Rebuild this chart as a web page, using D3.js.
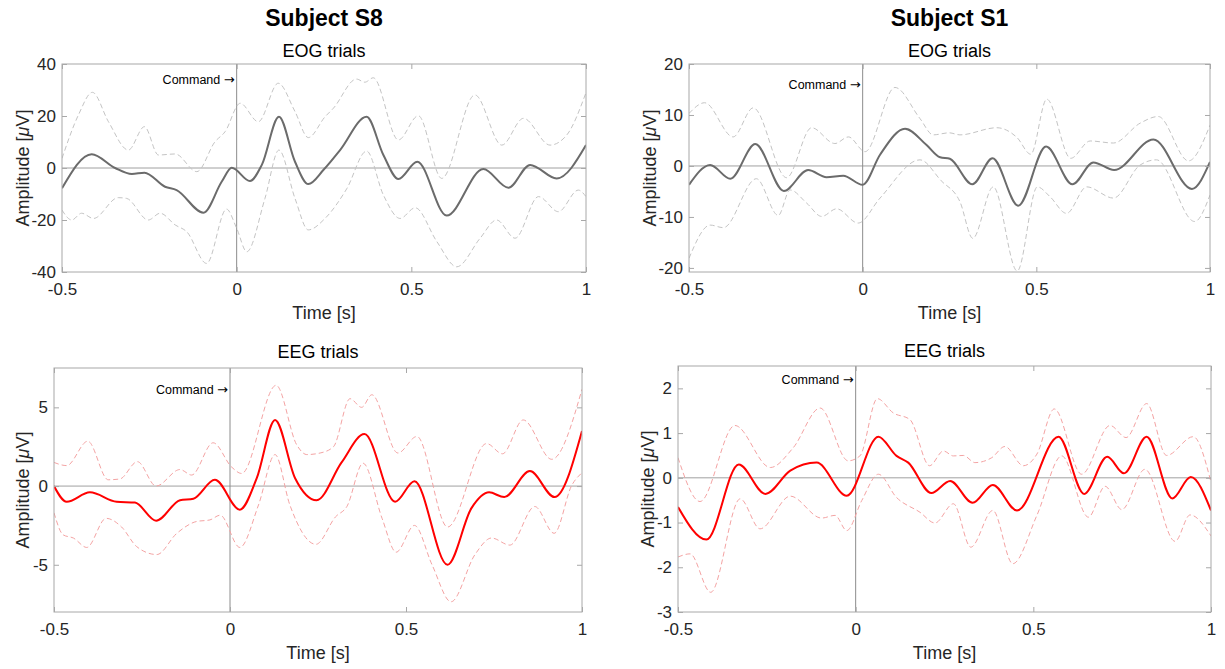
<!DOCTYPE html>
<html>
<head>
<meta charset="utf-8">
<title>EOG / EEG trials</title>
<script src="https://d3js.org/d3.v7.min.js"></script>
<style>
  body { margin: 0; background: #fff; }
  svg { font-family: "Liberation Sans", Arial, Helvetica, sans-serif; }
</style>
</head>
<body>
<div id="chart"></div>
<script>
// values: time [s] and amplitude [uV]
var xTicks = [-0.5, 0, 0.5, 1];
var xTickLabels = ["-0.5", "0", "0.5", "1"];

// Subject S8, EOG
var s8EogMeanT = [-0.5,-0.415,-0.348,-0.3,-0.264,-0.205,-0.172,-0.095,-0.043,-0.014,0.038,0.072,0.121,0.167,0.205,0.25,0.296,0.372,0.42,0.463,0.517,0.601,0.706,0.778,0.84,0.916,1.0];
var s8EogMean  = [-7.8,5.3,0,-2.3,-1.8,-7.2,-8.5,-17.2,-5.3,0.1,-5,1.2,19.7,2.4,-6.2,-0.5,6.9,19.7,5,-4.2,2.4,-18.3,-0.4,-7.6,1.2,-4,8.8];
var s8EogUpT = [-0.5,-0.453,-0.413,-0.367,-0.31,-0.264,-0.224,-0.176,-0.114,-0.062,-0.033,0.01,0.062,0.119,0.167,0.205,0.253,0.277,0.343,0.367,0.391,0.463,0.52,0.587,0.682,0.759,0.821,0.897,0.945,1.0];
var s8EogUp  = [3.7,20.4,29.1,17.8,6.9,15.9,5,5.4,-1.4,10.1,14,24.9,17.8,32.6,21.7,11.7,19.7,23,34.2,33,34.7,10.8,20.1,-4,28.1,8.8,19.1,8.8,12.7,29];
var s8EogLoT = [-0.5,-0.472,-0.444,-0.41,-0.339,-0.315,-0.253,-0.219,-0.176,-0.143,-0.086,-0.029,0,0.029,0.081,0.121,0.167,0.205,0.253,0.315,0.372,0.42,0.468,0.511,0.573,0.63,0.697,0.744,0.797,0.864,0.921,0.978,1.0];
var s8EogLo  = [-16.2,-20,-17.4,-19.4,-11.4,-11.7,-20,-17.4,-21.9,-24.5,-36.7,-15.8,-23.2,-32.2,-11.7,6.9,-11.7,-23.8,-19.4,-8,6.5,-10.4,-19.4,-15.3,-28.3,-38,-27,-20,-27,-11,-16.8,-8.5,-11];

// Subject S1, EOG
var s1EogMeanT = [-0.5,-0.439,-0.381,-0.309,-0.227,-0.157,-0.104,-0.056,0,0.05,0.122,0.184,0.223,0.251,0.316,0.374,0.448,0.528,0.604,0.664,0.724,0.837,0.948,1.0];
var s1EogMean  = [-3.7,0.2,-2.5,4.3,-4.9,-0.8,-2.2,-1.9,-3.7,2.2,7.3,4.1,1.7,1.4,-3.6,1.5,-7.8,3.8,-3.6,0.7,-0.8,5.2,-4.5,0.8];
var s1EogUpT = [-0.5,-0.455,-0.373,-0.315,-0.219,-0.147,-0.08,-0.041,0.007,0.093,0.165,0.203,0.249,0.28,0.386,0.444,0.484,0.53,0.599,0.655,0.722,0.799,0.851,0.938,1.0];
var s1EogUp  = [10.3,12.4,5.7,11.4,-2.3,7.5,4.4,5.7,2.8,15.4,9.3,6.1,6.5,6.1,7.5,5.6,2.3,13.1,1.5,4.9,4.5,8.4,9.7,1,8];
var s1EogLoT = [-0.5,-0.439,-0.401,-0.306,-0.243,-0.209,-0.161,-0.118,-0.075,-0.013,0.05,0.165,0.226,0.28,0.317,0.376,0.445,0.503,0.539,0.587,0.645,0.722,0.799,0.846,0.956,1.0];
var s1EogLo  = [-18.1,-11.6,-12.1,-2.5,-9.7,-4.7,-7.3,-9.9,-8.4,-11.2,-6.3,1.2,-2.9,-7,-14.2,-4.1,-20.6,-4.1,-6,-9.3,-4.1,-6.3,0.2,1.2,-10.9,-5.7];

// Subject S8, EEG
var s8EegMeanT = [-0.5,-0.464,-0.398,-0.322,-0.27,-0.21,-0.142,-0.104,-0.043,0.028,0.076,0.128,0.185,0.246,0.317,0.382,0.469,0.524,0.618,0.686,0.736,0.779,0.852,0.922,1.0];
var s8EegMean  = [0,-1,-0.4,-1,-1.05,-2.2,-0.9,-0.8,0.4,-1.5,0.5,4.2,0.5,-0.9,1.5,3.3,-1,0.3,-5,-1.4,-0.4,-0.7,0.95,-0.7,3.5];
var s8EegUpT = [-0.5,-0.464,-0.404,-0.346,-0.313,-0.263,-0.21,-0.142,-0.109,-0.048,0.005,0.033,0.131,0.19,0.218,0.256,0.294,0.341,0.374,0.403,0.477,0.531,0.618,0.729,0.774,0.833,0.914,1.0];
var s8EegUp  = [1.5,1.3,2.85,0.4,0.45,1.55,0,1.05,0.7,2.75,1.2,0.8,6.4,2.6,2,2.1,2.5,5.55,5,5.8,2.1,3.15,-2.6,2.7,2.05,4.2,1.7,6.15];
var s8EegLoT = [-0.5,-0.474,-0.445,-0.407,-0.352,-0.308,-0.265,-0.208,-0.151,-0.095,-0.057,-0.028,0.028,0.081,0.128,0.17,0.244,0.3,0.332,0.378,0.432,0.472,0.524,0.574,0.628,0.696,0.743,0.795,0.866,0.921,0.971,1.0];
var s8EegLo  = [-1.7,-3.1,-3.3,-3.9,-2.05,-2.6,-3.85,-4.35,-3,-2.25,-2.15,-1.85,-3.9,-1.2,2,-1.2,-3.7,-1.95,-1.3,1.45,-2.05,-4.2,-2.5,-5,-7.35,-4.35,-3.3,-3.75,-1.3,-3,0.05,0.85];

// Subject S1, EEG
var s1EegMeanT = [-0.5,-0.42,-0.329,-0.254,-0.184,-0.11,-0.025,0.064,0.115,0.148,0.213,0.266,0.329,0.386,0.454,0.571,0.643,0.708,0.755,0.819,0.891,0.943,1.0];
var s1EegMean  = [-0.65,-1.38,0.3,-0.36,0.16,0.34,-0.4,0.92,0.49,0.34,-0.34,-0.07,-0.56,-0.16,-0.73,0.92,-0.36,0.47,0.1,0.92,-0.46,0.02,-0.73];
var s1EegUpT = [-0.5,-0.438,-0.34,-0.24,-0.176,-0.1,-0.021,0.012,0.061,0.106,0.153,0.208,0.247,0.275,0.303,0.336,0.383,0.42,0.472,0.51,0.559,0.636,0.716,0.761,0.819,0.875,0.95,1.0];
var s1EegUp  = [0.45,-0.53,1.17,0.23,0.67,1.56,0.38,0.49,1.77,1.45,1.3,0.27,0.6,0.49,0.5,0.34,0.45,0.7,0.27,0.53,1.54,0.08,1.17,0.9,1.66,0.5,0.92,-0.1];
var s1EegLoT = [-0.5,-0.466,-0.408,-0.325,-0.269,-0.184,-0.096,-0.058,-0.025,0.017,0.064,0.115,0.181,0.223,0.275,0.324,0.386,0.442,0.51,0.58,0.655,0.702,0.749,0.814,0.899,0.941,1.0];
var s1EegLo  = [-1.77,-1.7,-2.56,-0.47,-1.14,-0.41,-0.9,-0.84,-1.18,-0.51,0.08,-0.44,-0.77,-1.01,-0.58,-1.55,-0.73,-1.92,-0.84,0.49,-0.88,-0.19,-0.71,0.19,-1.42,-0.83,-1.3];

var svg = d3.select("#chart")
            .append("svg")
            .attr("width", 1225)
            .attr("height", 669);

var panels = [
  { id: "p1", subject: "Subject S8", title: "EOG trials", titleY: 57,
    left: 62, right: 586, top: 64, bottom: 272, labelX: 29,
    yDomain: [-40, 40], yTicks: [-40, -20, 0, 20, 40], cmdY: 33.8,
    mean: d3.zip(s8EogMeanT, s8EogMean), up: d3.zip(s8EogUpT, s8EogUp), lo: d3.zip(s8EogLoT, s8EogLo),
    color: "#6b6b6b", bandColor: "#c4c4c4" },
  { id: "p2", subject: "Subject S1", title: "EOG trials", titleY: 57,
    left: 689, right: 1210, top: 64, bottom: 272, labelX: 656,
    yDomain: [-20.8, 20], yTicks: [-20, -10, 0, 10, 20], cmdY: 15.9,
    mean: d3.zip(s1EogMeanT, s1EogMean), up: d3.zip(s1EogUpT, s1EogUp), lo: d3.zip(s1EogLoT, s1EogLo),
    color: "#6b6b6b", bandColor: "#c4c4c4" },
  { id: "p3", subject: null, title: "EEG trials", titleY: 358,
    left: 54, right: 582, top: 368, bottom: 612, labelX: 29,
    yDomain: [-8, 7.5], yTicks: [-5, 0, 5], cmdY: 6.1,
    mean: d3.zip(s8EegMeanT, s8EegMean), up: d3.zip(s8EegUpT, s8EegUp), lo: d3.zip(s8EegLoT, s8EegLo),
    color: "#ff0000", bandColor: "#f4a3a3" },
  { id: "p4", subject: null, title: "EEG trials", titleY: 357,
    left: 678, right: 1211, top: 366, bottom: 612, labelX: 654,
    yDomain: [-3, 2.5], yTicks: [-3, -2, -1, 0, 1, 2], cmdY: 2.2,
    mean: d3.zip(s1EegMeanT, s1EegMean), up: d3.zip(s1EegUpT, s1EegUp), lo: d3.zip(s1EegLoT, s1EegLo),
    color: "#ff0000", bandColor: "#f4a3a3" }
];

var boxColor = "#a8a8a8";
var textColor = "#262626";

panels.forEach(drawPanel);

function drawPanel(p) {
  var x = d3.scaleLinear().domain([-0.5, 1]).range([p.left, p.right]);
  var y = d3.scaleLinear().domain(p.yDomain).range([p.bottom, p.top]);
  var cx = (p.left + p.right) / 2;
  var cy = (p.top + p.bottom) / 2;

  var g = svg.append("g");

  g.append("clipPath").attr("id", "clip-" + p.id)
   .append("rect")
   .attr("x", p.left).attr("y", p.top)
   .attr("width", p.right - p.left).attr("height", p.bottom - p.top);

  // reference lines at 0 uV and at the command onset
  g.append("line")
   .attr("x1", p.left).attr("x2", p.right)
   .attr("y1", y(0)).attr("y2", y(0))
   .attr("stroke", "#a0a0a0").attr("stroke-width", 1);
  g.append("line")
   .attr("x1", x(0)).attr("x2", x(0))
   .attr("y1", p.top).attr("y2", p.bottom)
   .attr("stroke", "#8c8c8c").attr("stroke-width", 1);

  var line = d3.line()
               .x(d => x(d[0]))
               .y(d => y(d[1]))
               .curve(d3.curveMonotoneX);

  var plot = g.append("g").attr("clip-path", "url(#clip-" + p.id + ")");

  [p.up, p.lo].forEach(function(band) {
    plot.append("path")
        .datum(band)
        .attr("fill", "none")
        .attr("stroke", p.bandColor)
        .attr("stroke-width", 1)
        .attr("stroke-dasharray", "5,3")
        .attr("d", line);
  });

  plot.append("path")
      .datum(p.mean)
      .attr("fill", "none")
      .attr("stroke", p.color)
      .attr("stroke-width", 2)
      .attr("d", line);

  // box
  g.append("rect")
   .attr("x", p.left).attr("y", p.top)
   .attr("width", p.right - p.left).attr("height", p.bottom - p.top)
   .attr("fill", "none")
   .attr("stroke", boxColor);

  // axes with inward ticks on all four sides
  var axes = [
    { gen: d3.axisLeft(y).tickValues(p.yTicks).tickFormat(d => String(d)), tr: `translate(${p.left},0)` },
    { gen: d3.axisRight(y).tickValues(p.yTicks).tickFormat(""), tr: `translate(${p.right},0)` },
    { gen: d3.axisBottom(x).tickValues(xTicks).tickFormat((d, i) => xTickLabels[i]), tr: `translate(0,${p.bottom})` },
    { gen: d3.axisTop(x).tickValues(xTicks).tickFormat(""), tr: `translate(0,${p.top})` }
  ];
  axes.forEach(function(a, i) {
    var ax = g.append("g")
              .attr("transform", a.tr)
              .call(a.gen.tickSizeInner(-5).tickSizeOuter(0).tickPadding(i === 0 ? 6 : 11));
    ax.select(".domain").remove();
    ax.selectAll(".tick line").attr("stroke", boxColor);
    ax.selectAll(".tick text")
      .attr("fill", textColor)
      .style("font-size", "17px")
      .style("font-family", "'Liberation Sans', Arial, sans-serif");
  });

  // titles
  if (p.subject) {
    svg.append("text")
       .attr("x", cx).attr("y", 26)
       .attr("text-anchor", "middle")
       .style("font-size", "23px").style("font-weight", "bold")
       .attr("fill", "#000")
       .text(p.subject);
  }
  svg.append("text")
     .attr("x", cx).attr("y", p.titleY)
     .attr("text-anchor", "middle")
     .style("font-size", "18px")
     .attr("fill", "#000")
     .text(p.title);

  // axis labels
  svg.append("text")
     .attr("x", cx).attr("y", p.bottom + 47)
     .attr("text-anchor", "middle")
     .style("font-size", "18px")
     .attr("fill", textColor)
     .text("Time [s]");

  var yl = svg.append("text")
              .attr("transform", `translate(${p.labelX},${cy}) rotate(-90)`)
              .attr("text-anchor", "middle")
              .style("font-size", "18px")
              .attr("fill", textColor);
  yl.append("tspan").text("Amplitude [");
  yl.append("tspan").style("font-style", "italic").text("\u03bc");
  yl.append("tspan").text("V]");

  // event marker
  var cmd = svg.append("text")
               .attr("x", x(0) - 2).attr("y", y(p.cmdY))
               .attr("dy", "0.35em")
               .attr("text-anchor", "end")
               .style("font-size", "12.5px")
               .attr("fill", "#000");
  cmd.append("tspan").text("Command ");
  cmd.append("tspan").style("font-family", "'DejaVu Sans', sans-serif").style("font-size", "13px").text("\u2192");
}
</script>
</body>
</html>
